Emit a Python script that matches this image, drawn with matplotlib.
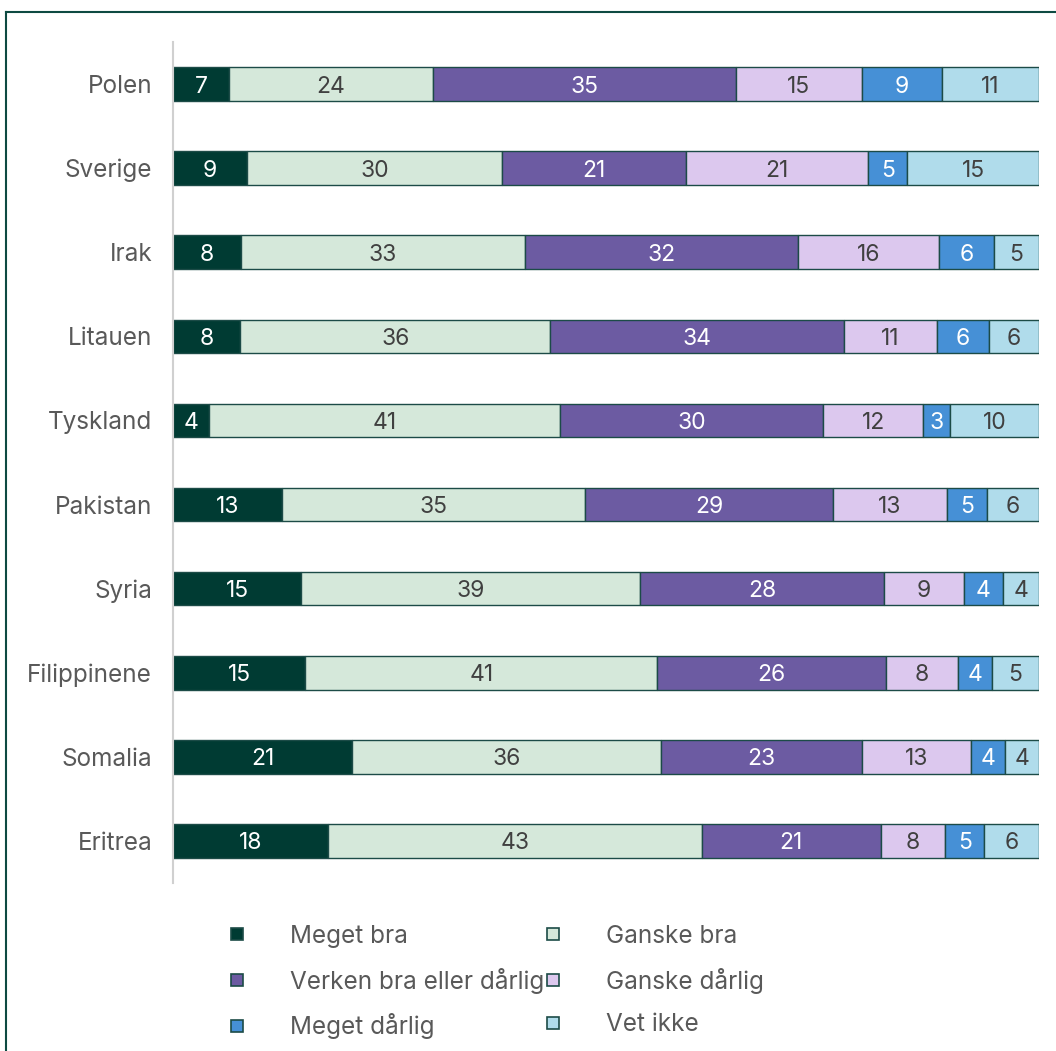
import numpy as np
import matplotlib
matplotlib.use("Agg")
import matplotlib.pyplot as plt
from matplotlib.lines import Line2D

plt.rcParams['font.family'] = ['Inter', 'DejaVu Sans']

# data (andeler i prosent, avlest fra søylene; etikettene viser avrundede verdier)
countries = ["Polen", "Sverige", "Irak", "Litauen", "Tyskland",
             "Pakistan", "Syria", "Filippinene", "Somalia", "Eritrea"]
categories = ["Meget bra", "Ganske bra", "Verken bra eller dårlig",
              "Ganske dårlig", "Meget dårlig", "Vet ikke"]
meget_bra = [6.5, 8.5, 7.8, 7.8, 4.1, 12.6, 14.8, 15.3, 20.7, 17.9]
ganske_bra = [23.5, 29.5, 32.8, 35.8, 40.6, 35.0, 39.1, 40.6, 35.6, 43.2]
verken = [35.1, 21.2, 31.6, 34.0, 30.4, 28.6, 28.1, 26.4, 23.3, 20.6]
ganske_darlig = [14.5, 21.1, 16.3, 10.7, 11.5, 13.2, 9.3, 8.3, 12.6, 7.5]
meget_darlig = [9.3, 4.5, 6.3, 6.0, 3.1, 4.6, 4.4, 4.0, 3.9, 4.5]
vet_ikke = [11.2, 15.2, 5.2, 5.8, 10.3, 6.0, 4.2, 5.4, 3.9, 6.3]

colors = ["#003B33", "#D5E8DA", "#6C5BA2", "#DCC8EE", "#4690D6", "#B0DCEB"]
text_colors = ["white", "#404040", "white", "#404040", "white", "#404040"]
edge = "#1C4B47"
label_grey = "#595959"

series = [meget_bra, ganske_bra, verken, ganske_darlig, meget_darlig, vet_ikke]
vals = np.array(series, dtype=float)
widths = vals / vals.sum(axis=0) * 100

fig = plt.figure(figsize=(10.56, 10.51), dpi=100)
ax = fig.add_axes([173 / 1056, 1 - 883 / 1051, (1039 - 173) / 1056, 841 / 1051])

y = np.arange(len(countries))
left = np.zeros(len(countries))
handles = []
for i, cat in enumerate(categories):
    ax.barh(y, widths[i], left=left, height=0.40, color=colors[i],
            edgecolor=edge, linewidth=1.0)
    for j in range(len(countries)):
        ax.text(left[j] + widths[i][j] / 2, y[j], f"{int(vals[i][j] + 0.5)}",
                ha="center", va="center_baseline", fontsize=16.5,
                color=text_colors[i])
    left += widths[i]
    handles.append(Line2D([], [], marker="s", linestyle="none", markersize=9,
                          markerfacecolor=colors[i], markeredgecolor=edge,
                          markeredgewidth=1.2, label=cat))

ax.set_xlim(0, 100)
ax.set_ylim(len(countries) - 0.5, -0.5)
ax.set_yticks(y)
ax.set_yticklabels(countries, fontsize=17.5, color=label_grey)
ax.tick_params(axis="y", length=0, pad=15)
ax.set_xticks([])
for s in ["top", "right", "bottom"]:
    ax.spines[s].set_visible(False)
ax.spines["left"].set_color("#D0D0D0")
ax.spines["left"].set_linewidth(1.5)

order = [0, 2, 4, 1, 3, 5]
fig.legend([handles[k] for k in order], [categories[k] for k in order],
           ncol=2, loc="upper left", bbox_to_anchor=(225 / 1056, 1 - 925 / 1051),
           frameon=False, fontsize=17.5, labelcolor=label_grey,
           handlelength=1.0, handletextpad=1.68, columnspacing=-0.16,
           labelspacing=0.81, borderpad=0, borderaxespad=0)

# ramme rundt figuren
fig.add_artist(Line2D([6 / 1056, 1], [1 - 12 / 1051, 1 - 12 / 1051],
                      color="#0E4A42", linewidth=1.5, transform=fig.transFigure))
fig.add_artist(Line2D([6 / 1056, 6 / 1056], [0, 1 - 12 / 1051],
                      color="#0E4A42", linewidth=1.5, transform=fig.transFigure))

fig.savefig("out.png", dpi=100)
